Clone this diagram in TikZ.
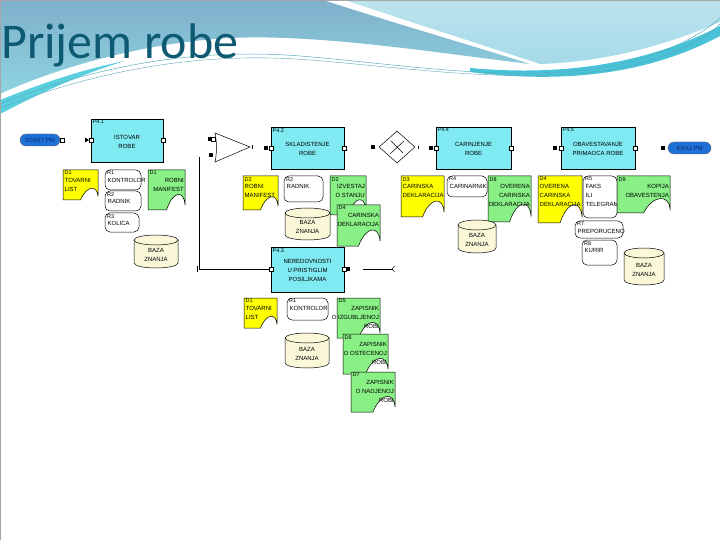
\documentclass[tikz,border=0pt]{standalone}
\usepackage{fontspec}
\setmainfont{Liberation Sans}
\newfontfamily\titlefont{Carlito}
\usetikzlibrary{shapes.geometric}
\definecolor{proc}{HTML}{80EAF2}
\definecolor{docY}{HTML}{FFFF00}
\definecolor{docG}{HTML}{88F084}
\definecolor{baza}{HTML}{FBF8DA}
\definecolor{pill}{HTML}{1F6FD8}
\definecolor{pilltext}{HTML}{0B2E6B}
\definecolor{titlec}{HTML}{0E5A72}
\definecolor{waveA}{HTML}{7FB0CB}
\definecolor{waveB}{HTML}{8ED4E0}
\definecolor{waveC}{HTML}{A5DAE8}
\definecolor{waveD}{HTML}{48C2D8}
\definecolor{waveE}{HTML}{5ACFE0}
\tikzset{
 docst/.style={draw=black, line width=0.5pt},
 lbl/.style={font=\fontsize{5.5}{5.5}\selectfont, inner sep=0.5pt},
 txt/.style={font=\fontsize{6}{9}\selectfont, align=center, inner sep=0pt},
 procst/.style={draw=black, fill=proc, line width=0.6pt},
 resst/.style={draw=black, fill=white, rounded corners=5pt, line width=0.5pt},
 bazast/.style={draw=black, fill=baza, line width=0.5pt},
 port/.style={draw=black, fill=white, minimum size=3.5pt, inner sep=0pt, line width=0.4pt},
 bport/.style={draw=black, fill=black, minimum size=3.2pt, inner sep=0pt},
 pillst/.style={draw=black!60, fill=pill, rounded corners=6pt, line width=0.4pt},
 conn/.style={draw=black, line width=0.6pt},
}
% Doc: name x1 y1 x2 y2 colour label text align(l/r)
\newcommand\Doc[9]{%
 \pgfmathsetmacro\dA{#2+0.5*(#4-#2)}%
 \pgfmathsetmacro\dB{#2+0.68*(#4-#2)}%
 \pgfmathsetmacro\dC{#4-0.02*(#4-#2)}%
 \pgfmathsetmacro\dH{#5-0.5*(#5-#3)}%
 \pgfmathsetmacro\dK{#5-0.12*(#5-#3)}%
 \filldraw[docst, fill=#6] (#2,#3) -- (#4,#3) -- (#4,\dK) .. controls (\dC,\dH) and (\dB,\dH) .. (\dA,#5) -- (#2,#5) -- cycle;
 \node[lbl, anchor=north west] (#1l) at (#2+1,#3+0.5) {#7};
 \if l#9
 \node[txt, anchor=north west, align=left] (#1) at (#2+1.5,#3+8) {#8};
 \else
 \node[txt, anchor=north east, align=right] (#1) at (#4-1,#3+8) {#8};
 \fi
}
% Res: name x1 y1 x2 y2 label text
\newcommand\Res[7]{%
 \filldraw[resst] (#2,#3) rectangle (#4,#5);
 \node[lbl, anchor=north west] (#1l) at (#2+1.5,#3+0.5) {#6};
 \node[txt, anchor=north west, align=left] (#1) at (#2+2.5,#3+8) {#7};
}
% Baza: name x1 y1 x2 y2
\newcommand\Baza[5]{%
 \pgfmathsetmacro\brx{(#4-#2)/2}%
 \filldraw[bazast] (#2,#3+5) -- (#2,#5-5) arc[start angle=180,end angle=360,x radius=\brx pt,y radius=5pt] -- (#4,#3+5) arc[start angle=0,end angle=180,x radius=\brx pt,y radius=5pt] -- cycle;
 \draw[line width=0.5pt] (#2,#3+5) arc[start angle=180,end angle=360,x radius=\brx pt,y radius=5pt];
 \node[txt] (#1) at ({(#2+#4)/2},{(#3+#5)/2+3}) {BAZA\\ZNANJA};
}
% Proc: name x1 y1 x2 y2 label text
\newcommand\Proc[7]{%
 \filldraw[procst] (#2,#3) rectangle (#4,#5);
 \node[lbl, anchor=north west] (#1l) at (#2+1,#3+0.5) {#6};
 \node[txt] (#1) at ({(#2+#4)/2},{(#3+#5)/2+1}) {#7};
}
\begin{document}
\begin{tikzpicture}[x=1pt,y=-1pt]
\useasboundingbox (0,0) rectangle (720,540);
\fill[white] (0,0) rectangle (720,540);
% ---- header waves ----
\shade[top color=waveA, bottom color=waveB] (0,0) -- (323,0) .. controls (400,25) and (470,45) .. (530,64) .. controls (430,52) and (320,34) .. (230,38) .. controls (150,42) and (60,66) .. (0,94) -- cycle;
\fill[waveE] (0,100) .. controls (40,84) and (80,70) .. (125,61) .. controls (75,76) and (35,96) .. (0,114) -- cycle;
\shade[top color=waveC!75!white, bottom color=waveC] (345,0) -- (720,0) -- (720,22) .. controls (660,48) and (600,62) .. (540,64) .. controls (480,44) and (410,22) .. (345,0) -- cycle;
\fill[waveD] (470,68) .. controls (580,78) and (660,57) .. (720,26) -- (720,36) .. controls (660,68) and (580,86) .. (470,72) -- cycle;
\draw[waveD!70!gray, line width=0.5pt] (0,104) .. controls (100,64) and (200,48) .. (300,56) .. controls (400,64) and (500,82) .. (600,68) .. controls (660,58) and (700,36) .. (720,18);
\draw[waveD!60!gray, line width=0.4pt] (0,108) .. controls (110,66) and (210,52) .. (310,60) .. controls (410,68) and (510,84) .. (610,70) .. controls (665,60) and (705,40) .. (720,24);
\draw[gray!70, line width=0.6pt] (0.3,540) -- (0.3,0.3) -- (720,0.3);
\node[anchor=base west, font=\titlefont\fontsize{50}{50}\selectfont, text=titlec, inner sep=0] (title) at (1,59) {Prijem robe};
% ---- start / end ----
\filldraw[pillst] (20,134) rectangle (60,146);
\node[txt, text=pilltext] (start) at (40,140.5) {START PM};
\node[port] (startp) at (62,140) {};
\filldraw[pillst] (668,142) rectangle (711,154);
\node[txt, text=pilltext] (kraj) at (689.5,148.5) {KRAJ PM};
\node[bport] (krajp) at (663,148) {};
% ---- processes ----
\Proc{p41}{91}{119}{163}{162}{P4.1}{ISTOVAR\\ROBE}
\node[port] (p41in) at (91,140) {};
\node[port] (p41out) at (163,140) {};
\fill (85,137.5) -- (89,140) -- (85,142.5) -- cycle;
\Proc{p42}{271}{127}{344}{169}{P4.2}{SKLADISTENJE\\ROBE}
\node[port] (p42in) at (271,148) {};
\node[bport] (p42b) at (266,148) {};
\node[port] (p42out) at (344,148) {};
\Proc{p43}{271}{247}{344}{292}{P4.3}{NEREDOVNOSTI\\U PRISTIGLIM\\POSILJKAMA}
\node[port] (p43in) at (271,269) {};
\node[port] (p43out) at (344,269) {};
\node[bport] (p43b) at (348,269) {};
\Proc{p44}{436}{127}{511}{169}{P4.4}{CARINJENJE\\ROBE}
\node[port] (p44in) at (436,148) {};
\node[bport] (p44b) at (431,148) {};
\node[port] (p44out) at (511,148) {};
\Proc{p45}{561}{127}{635}{169}{P4.5}{OBAVESTAVANJE\\PRIMAOCA ROBE}
\node[port] (p45in) at (561,148) {};
\node[bport] (p45b) at (555,148) {};
\node[port] (p45out) at (635,148) {};
% ---- junctions ----
\filldraw[fill=white, line width=0.5pt] (215,133) -- (250,147) -- (215,162) .. controls (217,152) and (217,143) .. (215,133) -- cycle;
\node[port] (trin) at (213,139) {};
\node[bport] (trb1) at (209.5,139) {};
\node[bport] (trb2) at (211,155) {};
\coordinate (trout) at (252,147);
\draw[line width=0.5pt] (252,145) -- (252,149);
\node[diamond, draw, fill=white, minimum width=36pt, minimum height=32pt, inner sep=0pt, line width=0.5pt] (dia) at (397,147) {};
\draw[line width=0.5pt] (391,141) -- (403,153) (404,141) -- (390,154);
\node[bport] (diab) at (373,147) {};
\draw[line width=0.5pt] (418,146) -- (418,149);
% ---- connectors ----
\coordinate (vtop) at (199,157);
\draw[conn] (vtop) |- (p43in);
\draw[line width=0.5pt] (197,266) -- (197,272);
\coordinate (rA) at (363,269);
\coordinate (rB) at (393,269);
\draw[conn] (rA) -- (rB);
\draw[line width=0.5pt] (395,266.5) arc[start angle=90,end angle=270,radius=2.5pt];
% ---- column 1 ----
\Doc{d1a}{63}{170}{98}{200}{docY}{D1}{TOVARNI\\LIST}{l}
\Res{r1a}{105}{170}{141}{190}{R1}{KONTROLOR}
\Res{r2a}{105}{191}{141}{211}{R2}{RADNIK}
\Res{r3a}{105}{213}{139}{232}{R3}{KOLICA}
\Doc{d1g}{148}{170}{185}{210}{docG}{D1}{ROBNI\\MANIFEST}{r}
\Baza{ba}{134}{235}{178}{268}
% ---- column 2 ----
\Doc{d2y}{243}{176}{278}{210}{docY}{D2}{ROBNI\\MANIFEST}{l}
\Res{r2b}{284}{176}{323}{202}{R2}{RADNIK}
\Doc{d2g}{330}{176}{366}{215}{docG}{D2}{IZVESTAJ\\O STANJU}{r}
\Baza{bb}{285}{208}{330}{240}
\Doc{d4g}{337}{205}{380}{246}{docG}{D4}{CARINSKA\\DEKLARACIJA}{r}
% ---- column 2, lower ----
\Doc{d1c}{244}{298}{277}{328}{docY}{D1}{TOVARNI\\LIST}{l}
\Res{r1c}{287}{298}{328}{320}{R1}{KONTROLOR}
\Doc{d5g}{337}{298}{380}{338}{docG}{D5}{ZAPISNIK\\O IZGUBLJENOJ\\ROBI}{r}
\Baza{bc}{285}{333}{329}{368}
\Doc{d6g}{343}{334}{388}{374}{docG}{D6}{ZAPISNIK\\O OSTECENOJ\\ROBI}{r}
\Doc{d7g}{351}{372}{395}{412}{docG}{D7}{ZAPISNIK\\O NADJENOJ\\ROBI}{r}
% ---- column 3 ----
\Doc{d3y}{401}{176}{444}{217}{docY}{D3}{CARINSKA\\DEKLARACIJA}{l}
\Res{r4}{447}{176}{487}{197}{R4}{CARINARNIK}
\Doc{d8g}{488}{176}{531}{222}{docG}{D8}{OVERENA\\CARINSKA\\DEKLARACIJA}{r}
\Baza{bd}{458}{220}{496}{253}
% ---- column 4 ----
\Doc{d4y}{538}{176}{582}{223}{docY}{D4}{OVERENA\\CARINSKA\\DEKLARACIJA}{l}
\Res{r5}{583}{176}{617}{218}{R5}{FAKS\\ILI\\TELEGRAM}
\Doc{d9g}{617}{176}{670}{213}{docG}{D9}{KOPIJA\\OBAVESTENJA}{r}
\Res{r7}{575}{221}{623}{238}{R7}{PREPORUCENO}
\Res{r8}{582}{240}{617}{265}{R8}{KURIR}
\Baza{be}{624}{248}{664}{285}
\end{tikzpicture}
\end{document}
